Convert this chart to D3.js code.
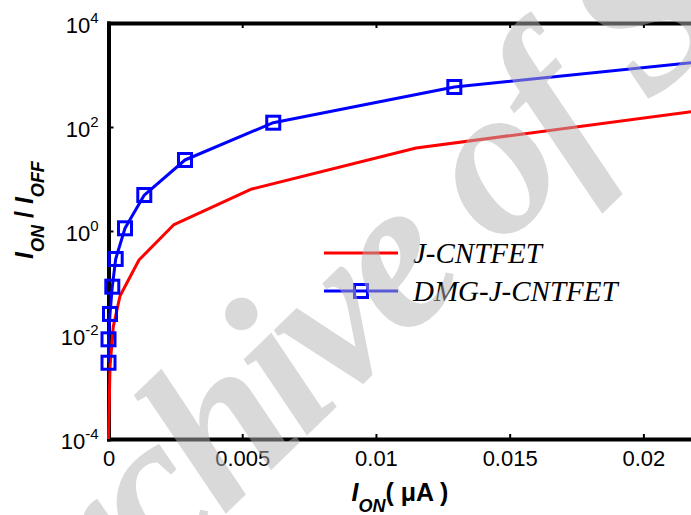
<!DOCTYPE html>
<html>
<head>
<meta charset="utf-8">
<script src="https://cdn.jsdelivr.net/npm/d3@7"></script>
<style>
  html, body { margin: 0; padding: 0; background: #fff; }
  svg { display: block; }
</style>
</head>
<body>
<script>
// ---- data ----
const seriesNames = ["J-CNTFET", "DMG-J-CNTFET"];
const seriesColors = ["#ff0000", "#0000ff"];

const jX = [0, 0.000056, 0.000179, 0.00043, 0.00114, 0.00245, 0.00536, 0.0115, 0.0225];
const jY = [1e-4, 0.00245, 0.0145, 0.0562, 0.277, 1.33, 6.43, 39.4, 220];

const dX = [0, 0, 0.000056, 0.000142, 0.000269, 0.000617, 0.001338, 0.00286, 0.00616, 0.01293, 0.0225];
const dY = [0.00293, 0.00826, 0.0254, 0.0849, 0.290, 1.127, 4.92, 23.2, 121, 588, 1880];

const xTicks = [0, 0.005, 0.01, 0.015, 0.02];
const xTickLabels = ["0", "0.005", "0.01", "0.015", "0.02"];
const yTicks = [1e-4, 1e-2, 1, 1e2, 1e4];
const yTickExps = ["-4", "-2", "0", "2", "4"];

const W = 691, H = 515;
const sans = "'Liberation Sans', Arial, Helvetica, sans-serif";
const serif = "'Liberation Serif', 'Times New Roman', serif";

const svg = d3.select("body").append("svg")
  .attr("width", W).attr("height", H)
  .style("background", "#fff");

const x = d3.scaleLinear().domain([0, 0.02178]).range([108.5, 691]);
const y = d3.scaleLog().domain([1e-4, 1e4]).range([439, 23]);

// ---- axes ----
function styleAxis(g) {
  g.select(".domain").attr("stroke", "#000").attr("stroke-width", 4).attr("stroke-linecap", "square");
  g.selectAll(".tick line").attr("stroke", "#000").attr("stroke-width", 2);
}

const gx = svg.append("g").attr("transform", `translate(0,${y.range()[0]})`)
  .call(d3.axisBottom(x).tickValues(xTicks).tickSizeInner(-5).tickSizeOuter(0)
    .tickFormat((d, i) => xTickLabels[i]));
styleAxis(gx);
gx.selectAll(".tick text").attr("font-family", sans).attr("font-size", 22).attr("fill", "#000")
  .attr("y", 27).attr("dy", 0);

const gxt = svg.append("g").attr("transform", `translate(0,${y.range()[1]})`)
  .call(d3.axisTop(x).tickValues(xTicks).tickSizeInner(-5).tickSizeOuter(0).tickFormat(""));
styleAxis(gxt);

const gy = svg.append("g").attr("transform", `translate(${x.range()[0]},0)`)
  .call(d3.axisLeft(y).tickValues(yTicks).tickSizeInner(-5).tickSizeOuter(0).tickFormat(""));
styleAxis(gy);
gy.selectAll(".tick").each(function(d, i) {
  const t = d3.select(this).append("text")
    .attr("x", -10).attr("y", 9)
    .attr("text-anchor", "end")
    .attr("font-family", sans).attr("fill", "#000");
  t.append("tspan").attr("font-size", 22).text("10");
  t.append("tspan").attr("font-size", 15).attr("dy", -10).text(yTickExps[i]);
});

// ---- axis labels ----
const xl = svg.append("text")
  .attr("x", 400).attr("y", 501)
  .attr("text-anchor", "middle")
  .attr("font-family", sans).attr("font-weight", "bold").attr("fill", "#000");
xl.append("tspan").attr("font-size", 25).attr("font-style", "italic").text("I");
xl.append("tspan").attr("font-size", 18).attr("font-style", "italic").attr("dy", 11).text("ON");
xl.append("tspan").attr("font-size", 25).attr("dy", -11).text("( \u03BCA )");

const yl = svg.append("text")
  .attr("transform", "translate(33,210) rotate(-90)")
  .attr("text-anchor", "middle")
  .attr("font-family", sans).attr("font-weight", "bold").attr("fill", "#000");
yl.append("tspan").attr("font-size", 25).attr("font-style", "italic").text("I");
yl.append("tspan").attr("font-size", 18).attr("font-style", "italic").attr("dy", 11).text("ON");
yl.append("tspan").attr("font-size", 25).attr("dy", -11).text(" / ");
yl.append("tspan").attr("font-size", 25).attr("font-style", "italic").text("I");
yl.append("tspan").attr("font-size", 18).attr("font-style", "italic").attr("dy", 11).text("OFF");

// ---- series ----
const line = d3.line().x(d => x(d[0])).y(d => y(d[1]));
const jData = jX.map((v, i) => [v, jY[i]]);
const dData = dX.map((v, i) => [v, dY[i]]);

svg.append("path").datum(jData).attr("d", line)
  .attr("fill", "none").attr("stroke", seriesColors[0]).attr("stroke-width", 3)
  .attr("stroke-linejoin", "round");

svg.append("path").datum(dData).attr("d", line)
  .attr("fill", "none").attr("stroke", seriesColors[1]).attr("stroke-width", 3)
  .attr("stroke-linejoin", "round");

const ms = 13;
svg.append("g").selectAll("rect").data(dData).join("rect")
  .attr("x", d => x(d[0]) - ms / 2).attr("y", d => y(d[1]) - ms / 2)
  .attr("width", ms).attr("height", ms)
  .attr("fill", "none").attr("stroke", seriesColors[1]).attr("stroke-width", 3);

// ---- legend ----
const legend = svg.append("g");
const legY = [253, 291];
seriesNames.forEach((name, i) => {
  legend.append("line").attr("x1", 324).attr("x2", 398).attr("y1", legY[i]).attr("y2", legY[i])
    .attr("stroke", seriesColors[i]).attr("stroke-width", 3);
  if (i === 1) {
    legend.append("rect").attr("x", 361 - ms / 2).attr("y", legY[i] - ms / 2)
      .attr("width", ms).attr("height", ms)
      .attr("fill", "none").attr("stroke", seriesColors[i]).attr("stroke-width", 3);
  }
  legend.append("text").attr("x", 413).attr("y", legY[i] + 10)
    .attr("font-family", serif).attr("font-style", "italic").attr("font-size", 29)
    .attr("fill", "#000").text(name);
});

// ---- watermark ----
svg.append("text")
  .attr("transform", "translate(8,724) rotate(-44)")
  .attr("font-family", serif).attr("font-style", "italic").attr("font-weight", "bold")
  .attr("font-size", 215).attr("letter-spacing", -8)
  .attr("fill", "#b4b4b4").attr("fill-opacity", 0.5)
  .text("Archive of SID");
</script>
</body>
</html>
